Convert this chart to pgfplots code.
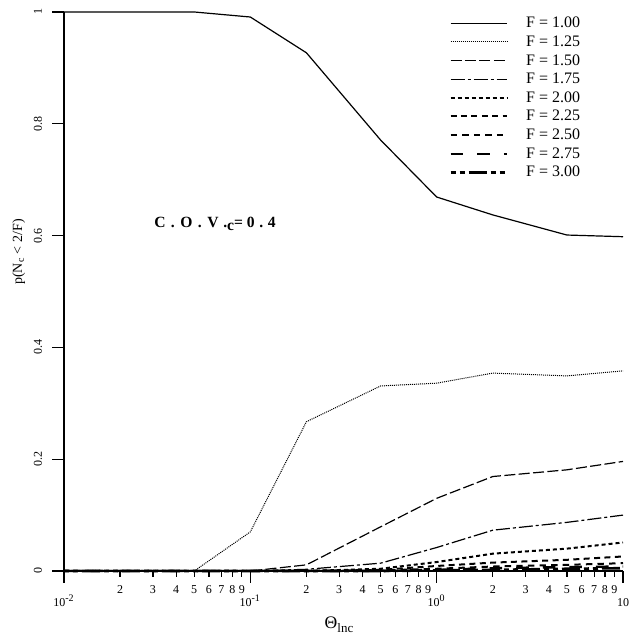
\documentclass[border=0pt]{standalone}
\usepackage{pgfplots}
\pgfplotsset{compat=1.18}
\usepackage{fontspec}
\setmainfont{Liberation Serif}

% line styles of the nine safety factors
\tikzset{
  f100/.style={black, line width=0.6pt},
  f125/.style={black, line width=0.5pt, dash pattern=on 0.5pt off 0.5pt},
  f150/.style={black, line width=0.6pt, dash pattern=on 5.5pt off 1.7pt},
  f175/.style={black, line width=0.6pt, dash pattern=on 7pt off 1.5pt on 1.5pt off 1.5pt},
  f200/.style={black, line width=1pt, dash pattern=on 2pt off 1.5pt},
  f225/.style={black, line width=1pt, dash pattern=on 3pt off 2.2pt},
  f250/.style={black, line width=1pt, dash pattern=on 3.2pt off 2.6pt},
  f275/.style={black, line width=1.2pt, dash pattern=on 6.3pt off 7pt},
  f300/.style={black, line width=1.3pt, dash pattern=on 2.5pt off 2pt on 2.5pt off 2pt on 9pt off 2pt},
}

\begin{document}
\begin{tikzpicture}
\path[use as bounding box] (0,0) rectangle (315pt,317.5pt);
\begin{axis}[
  at={(32pt,32pt)}, anchor=south west,
  scale only axis, width=279.5pt, height=279.5pt,
  xmode=log, xmin=0.01, xmax=10, ymin=0, ymax=1,
  axis x line=bottom, axis y line=left,
  axis line style={-, line width=0.6pt},
  clip=false,
  tick align=outside,
  tick style={black, line width=0.6pt},
  /pgf/number format/assume math mode=true,
  tick label style={font=\fontsize{6}{7}\selectfont},
  xtick={0.01,0.1,1,10},
  xticklabels={10\textsuperscript{-2},10\textsuperscript{-1},10\textsuperscript{0},10},
  minor xtick={},
  major tick length=6pt,
  xticklabel style={anchor=base, yshift=-12pt},
  extra x ticks={0.02,0.03,0.04,0.05,0.06,0.07,0.08,0.09,0.2,0.3,0.4,0.5,0.6,0.7,0.8,0.9,2,3,4,5,6,7,8,9},
  extra x tick labels={2,3,4,5,6,7,8,9,2,3,4,5,6,7,8,9,2,3,4,5,6,7,8,9},
  extra x tick style={major tick length=2.5pt, xticklabel style={yshift=3pt}},
  ytick={0,0.2,0.4,0.6,0.8,1},
  yticklabels={0,0.2,0.4,0.6,0.8,1},
  yticklabel style={rotate=90, anchor=base, yshift=5.1pt},
  % short tick marks on the left axis line
  after end axis/.code={
    \foreach \v in {0,0.2,0.4,0.6,0.8,1}
      \draw[black, line width=0.6pt] (axis cs:0.01,\v) -- ++(-3.5pt,0pt);
  },
  legend cell align=left,
  legend style={draw=none, fill=none, at={(0.6892,0.9934)}, anchor=north west,
    inner sep=0pt, outer sep=0pt, row sep=1.83pt, column sep=8.85pt,
    font=\fontsize{8}{9}\selectfont,
    nodes={inner sep=0pt, text height=6pt, text depth=1.5pt}},
  legend image code/.code={\draw[#1] (0pt,0pt) -- (28.3pt,0pt);},
]
\addplot[f100] coordinates {(0.01,1) (0.02,1) (0.05,1) (0.1,0.991) (0.2,0.927) (0.5,0.771) (1,0.669) (2,0.637) (5,0.601) (10,0.598)};
\addlegendentry{F = 1.00}
\addplot[f125] coordinates {(0.01,0) (0.02,0) (0.05,0) (0.1,0.070) (0.2,0.267) (0.5,0.331) (1,0.336) (2,0.354) (5,0.349) (10,0.358)};
\addlegendentry{F = 1.25}
\addplot[f150] coordinates {(0.01,0) (0.02,0) (0.05,0) (0.1,0) (0.2,0.011) (0.5,0.079) (1,0.130) (2,0.169) (5,0.181) (10,0.196)};
\addlegendentry{F = 1.50}
\addplot[f175] coordinates {(0.01,0) (0.02,0) (0.05,0) (0.1,0) (0.2,0.003) (0.5,0.014) (1,0.042) (2,0.073) (5,0.087) (10,0.100)};
\addlegendentry{F = 1.75}
\addplot[f200] coordinates {(0.01,0) (0.02,0) (0.05,0) (0.1,0) (0.2,0) (0.5,0.004) (1,0.016) (2,0.031) (5,0.040) (10,0.051)};
\addlegendentry{F = 2.00}
\addplot[f225] coordinates {(0.01,0) (0.02,0) (0.05,0) (0.1,0) (0.2,0) (0.5,0.002) (1,0.009) (2,0.015) (5,0.020) (10,0.026)};
\addlegendentry{F = 2.25}
\addplot[f250] coordinates {(0.01,0) (0.02,0) (0.05,0) (0.1,0) (0.2,0) (0.5,0.001) (1,0.004) (2,0.008) (5,0.011) (10,0.014)};
\addlegendentry{F = 2.50}
\addplot[f275] coordinates {(0.01,0) (0.02,0) (0.05,0) (0.1,0) (0.2,0) (0.5,0) (1,0.002) (2,0.005) (5,0.007) (10,0.008)};
\addlegendentry{F = 2.75}
\addplot[f300] coordinates {(0.01,0) (0.02,0) (0.05,0) (0.1,0) (0.2,0) (0.5,0) (1,0.001) (2,0.002) (5,0.004) (10,0.005)};
\addlegendentry{F = 3.00}
\end{axis}
% axis titles and annotation
\node[rotate=90, anchor=base, font=\fontsize{7}{8}\selectfont] at (11pt,191.5pt) {p(N\textsubscript{c} < 2/F)};
\node[anchor=base, inner sep=0pt] at (169.5pt,3.35pt) {\fontsize{8.8}{10}\selectfont Θ\raisebox{-2pt}{\fontsize{6.5}{7}\selectfont lnc}};
\node[anchor=base, inner sep=0pt, font=\fontsize{7.8}{9}\selectfont\bfseries] at (107.5pt,203.5pt)
  {C\hspace{0.35em}.\hspace{0.35em}O\hspace{0.35em}.\hspace{0.35em}V\hspace{0.3em}.\raisebox{-1.5pt}{c}= 0\hspace{0.3em}.\hspace{0.3em}4};
\end{tikzpicture}
\end{document}
